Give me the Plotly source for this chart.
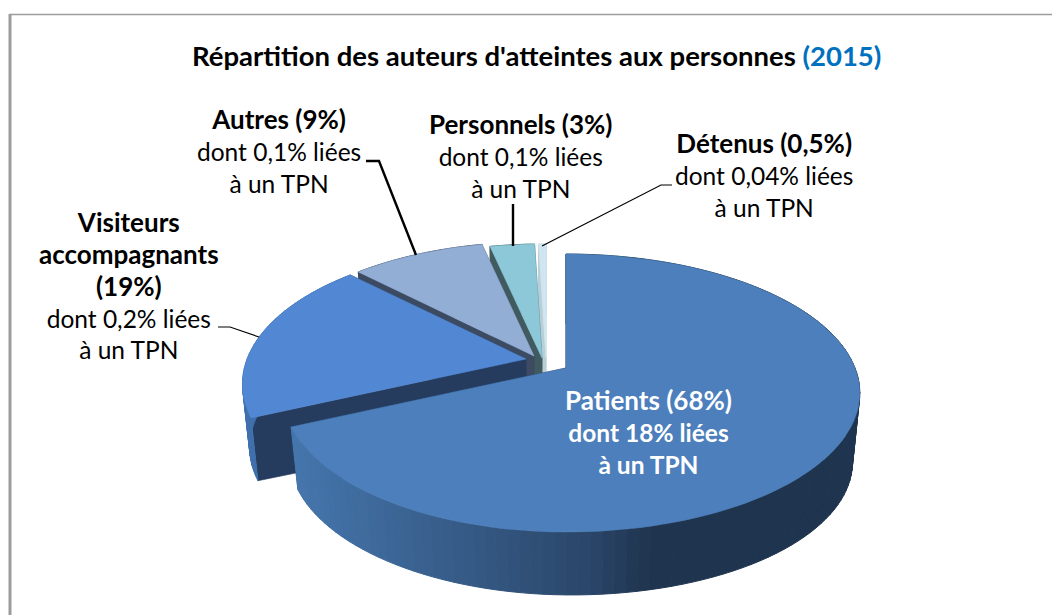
import math
import plotly.graph_objects as go

# ---- chart data ----
categories = ["Patients", "Visiteurs accompagnants", "Autres", "Personnels", "Détenus"]
shares = [68, 19, 9, 3, 0.5]
tpn_shares = ["18%", "0,2%", "0,1%", "0,1%", "0,04%"]
share_labels = ["68%", "19%", "9%", "3%", "0,5%"]
top_colors = ["#4c7fbb", "#5288d3", "#92aed5", "#8cc8d8", "#d0e5ef"]
edge_colors = ["#1f344f", "#253c5f", "#3c4a62", "#415a60", "#b9cfd8"]
title_main = "Répartition des auteurs d'atteintes aux personnes"
title_year = "(2015)"

# ---- projection of the 3D pie (pixel space) ----
W, H = 1052, 615
CX, CY = 566, 368        # apex of the un-exploded pie
A, B, K = 289, 134.5, 0.18   # ellipse half-axes and perspective strength
LEFT_SCALE = 0.965           # the view is slightly off-axis: left half looks narrower
DEPTH, DEPTH_U, SHRINK = 67, 3, 0.975    # extrusion of the bottom face
EXPLODE = [(0, 0), (-40, -9), (-32, -12), (-24, -10), (-20, -10)]


def project(theta, r=1.0, off=(0, 0), bottom=False):
    u, v = r * math.sin(theta), -r * math.cos(theta)
    d = 1 - K * v
    x, y = A * u / d, B * v / d
    if u < 0:
        x *= LEFT_SCALE
    if bottom:
        return (CX + off[0] + x * SHRINK, CY + off[1] + DEPTH + DEPTH_U * u + y * SHRINK)
    return (CX + off[0] + x, CY + off[1] + y)


def poly(points, color, name, lw=0.6):
    xs, ys = zip(*points)
    return go.Scatter(x=list(xs) + [xs[0]], y=list(ys) + [ys[0]], mode="lines", fill="toself",
                      fillcolor=color, line=dict(color=color, width=lw),
                      hoverinfo="skip", name=name, showlegend=False)


def mix(c1, c2, t):
    a = [int(c1[i:i + 2], 16) for i in (1, 3, 5)]
    b = [int(c2[i:i + 2], 16) for i in (1, 3, 5)]
    return "#%02x%02x%02x" % tuple(round(p + (q - p) * t) for p, q in zip(a, b))


total = sum(shares)
bounds = [0]
for s in shares:
    bounds.append(bounds[-1] + s / total * 2 * math.pi)

fig = go.Figure()
for i in reversed(range(len(shares))):
    t0, t1 = bounds[i], bounds[i + 1]
    off = EXPLODE[i]
    n = max(3, int((t1 - t0) / math.radians(2)))
    angles = [t0 + (t1 - t0) * j / n for j in range(n + 1)]
    name = categories[i]
    # radial inner faces
    for t in (t1, t0):
        fig.add_trace(poly([project(t, 0, off), project(t, 1, off), project(t, 1, off, True),
                            project(t, 0, off, True)], edge_colors[i], name))
    # outer wall, with a horizontal shading for the big slice
    for a0, a1 in zip(angles[:-1], angles[1:]):
        xm = project((a0 + a1) / 2, 1, off)[0]
        if i == 0:
            if xm < 590:
                col = mix("#4576ad", "#2a4669", max(0, (xm - 290) / 300))
            else:
                col = mix("#2a4669", edge_colors[0], min(1, (xm - 590) / 60))
        elif i == 1:
            col = "#3f70ad"
        else:
            col = edge_colors[i]
        fig.add_trace(poly([project(a0, 1, off), project(a1, 1, off),
                            project(a1, 1, off, True), project(a0, 1, off, True)], col, name, 1))
    # top face
    fig.add_trace(poly([project(0, 0, off)] + [project(t, 1, off) for t in angles], top_colors[i], name))

# ---- leader lines ----
leaders = [
    ([218, 230, 259], [327, 327, 337], 1.2),
    ([366, 379, 416], [161, 161, 255], 2.4),
    ([513, 513], [204, 246], 2.4),
    ([672, 661, 542], [185, 185, 246], 1.2),
]
for lx, ly, lw in leaders:
    fig.add_trace(go.Scatter(x=lx, y=ly, mode="lines", line=dict(color="black", width=lw),
                             hoverinfo="skip", showlegend=False))


# ---- labels ----
def head(text):
    return "<span style='font-size:26px'><b>%s</b></span>" % text


FONT = "Lato, Carlito, Calibri, sans-serif"
labels = [
    (648, 431, 0, "white", head("Patients (%s)" % share_labels[0]) + "<br><b>dont %s liées<br>à un TPN</b>" % tpn_shares[0]),
    (129, 285, 1, "black", head("Visiteurs") + "<br>" + head("accompagnants") + "<br>" + head("(%s)" % share_labels[1]) + "<br>dont %s liées<br>à un TPN" % tpn_shares[1]),
    (279, 150, 2, "black", head("Autres (%s)" % share_labels[2]) + "<br>dont %s liées<br>à un TPN" % tpn_shares[2]),
    (520, 155, 3, "black", head("Personnels (%s)" % share_labels[3]) + "<br>dont %s liées<br>à un TPN" % tpn_shares[3]),
    (764, 174, 4, "black", head("Détenus (%s)" % share_labels[4]) + "<br>dont %s liées<br>à un TPN" % tpn_shares[4]),
]
for x, y, _, color, text in labels:
    fig.add_annotation(x=x, y=y, text=text, showarrow=False, align="center", xanchor="center", yanchor="middle",
                       font=dict(family=FONT, size=24.5, color=color))

fig.add_annotation(x=536, y=55, showarrow=False, xanchor="center", yanchor="middle",
                   text="<b>%s <span style='color:#0070c0'>%s</span></b>" % (title_main, title_year),
                   font=dict(family=FONT, size=27.5, color="black"))

# ---- frame: only the top and left sides are visible ----
fig.add_shape(type="line", x0=10, x1=10, y0=14, y1=615, line=dict(color="#9c9c9c", width=3), layer="below")
fig.add_shape(type="line", x0=9, x1=1052, y0=14.5, y1=14.5, line=dict(color="#9c9c9c", width=1.5), layer="below")

fig.update_layout(width=W, height=H, margin=dict(l=0, r=0, t=0, b=0), plot_bgcolor="white",
                  paper_bgcolor="white", showlegend=False,
                  xaxis=dict(range=[0, W], visible=False, fixedrange=True),
                  yaxis=dict(range=[H, 0], visible=False, fixedrange=True))

fig.write_html("out.html", post_script="document.body.style.margin='0';document.body.style.overflow='hidden';",
               config={"displayModeBar": False})
